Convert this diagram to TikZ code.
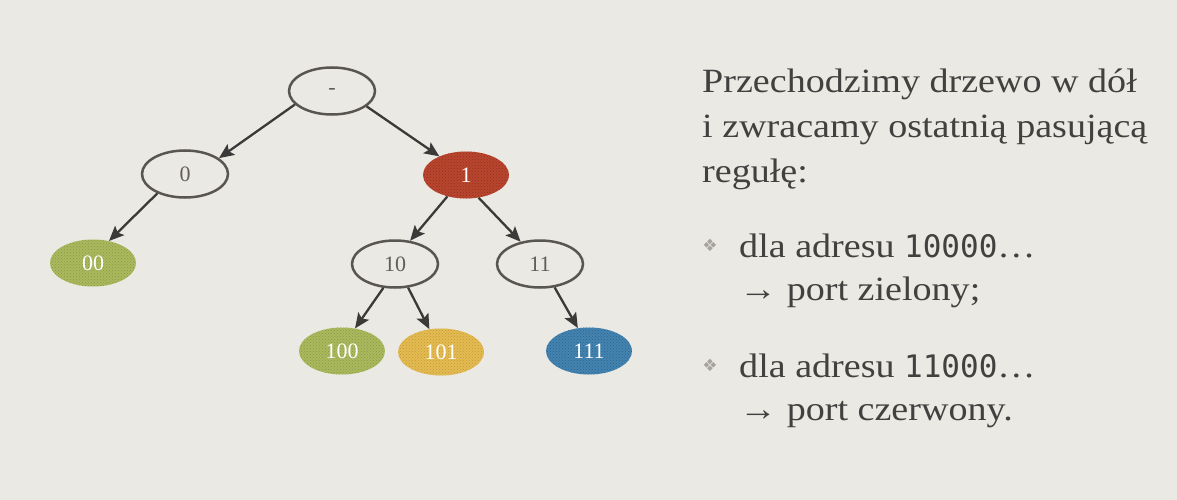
\documentclass[tikz,border=0pt]{standalone}
\usepackage{fontspec}
\setmainfont{Liberation Serif}
\newfontfamily\txtfont[FakeStretch=1.12]{Liberation Serif}
\newfontfamily\lblfont{Liberation Serif}
\newfontfamily\monofont{DejaVu Sans Mono}
\newfontfamily\symfont{DejaVu Sans}
\usetikzlibrary{arrows.meta,patterns,shapes.geometric}
\definecolor{bg}{HTML}{EBE9E4}
\definecolor{edgecol}{HTML}{3B3A38}
\definecolor{outline}{HTML}{585552}
\definecolor{lblgray}{HTML}{615D59}
\definecolor{txtcol}{HTML}{434140}
\definecolor{bulletcol}{HTML}{A6A39E}
\definecolor{redn}{HTML}{B8462F}
\definecolor{redd}{HTML}{962F20}
\definecolor{greenn}{HTML}{AAB95E}
\definecolor{greend}{HTML}{8A9A42}
\definecolor{yellown}{HTML}{E3BB52}
\definecolor{yellowd}{HTML}{C49A36}
\definecolor{bluen}{HTML}{4483B0}
\definecolor{blued}{HTML}{2C6590}
\tikzset{
  tnode/.style={ellipse, minimum width=86pt, minimum height=47pt, inner sep=0pt,
    font=\lblfont\fontsize{22}{22}\selectfont},
  plain/.style={tnode, draw=outline, line width=2.5pt, text=lblgray},
  colored/.style={tnode, fill=#1n, text=white,
    postaction={pattern=crosshatch dots, pattern color=#1d}},
  link/.style={draw=edgecol, line width=2.3pt,
    -{Stealth[length=15pt,width=13pt,inset=3pt]}},
  para/.style={anchor=base west, inner sep=0pt, text=txtcol,
    font=\txtfont\fontsize{34}{34}\selectfont},
  bul/.style={inner sep=0pt, text=bulletcol, font=\symfont\fontsize{17}{17}\selectfont}
}
\begin{document}
\begin{tikzpicture}[x=1pt,y=-1pt]
\fill[bg] (0,0) rectangle (1177,500);
\useasboundingbox (0,0) rectangle (1177,500);

% tree
\node[plain] (r) at (332,91) {-};
\node[plain] (n0) at (185,174) {0};
\node[colored=red] (n1) at (466,175) {1};
\node[colored=green] (n00) at (93,263) {00};
\node[plain] (n10) at (395,264) {10};
\node[plain] (n11) at (540,264) {11};
\node[colored=green] (n100) at (342,351) {100};
\node[colored=yellow] (n101) at (441,352) {101};
\node[colored=blue] (n111) at (589,351) {111};

\draw[link] (r.200) -- (n0.25);
\draw[link] (r.336) -- (n1.145);
\draw[link] (n0.215) -- (n00.54);
\draw[link] (n1.229) -- (n10.57);
\draw[link] (n1.299) -- (n11.131);
\draw[link] (n10.244) -- (n100.60);
\draw[link] (n10.299) -- (n101.117);
\draw[link] (n11.302) -- (n111.116);

% text
\node[para] (t1) at (702,93) {Przechodzimy drzewo w dół};
\node[para] (t2) at (702,138) {i zwracamy ostatnią pasującą};
\node[para] (t3) at (702,182) {regułę:};
\node[bul] (b1) at (710,245) {❖};
\node[para] (t4) at (739,257) {dla adresu {\monofont\fontsize{31}{31}\selectfont 10000}…};
\node[para] (t5) at (739,300) {→ port zielony;};
\node[bul] (b2) at (710,365) {❖};
\node[para] (t6) at (739,377) {dla adresu {\monofont\fontsize{31}{31}\selectfont 11000}…};
\node[para] (t7) at (739,420) {→ port czerwony.};
\end{tikzpicture}
\end{document}
